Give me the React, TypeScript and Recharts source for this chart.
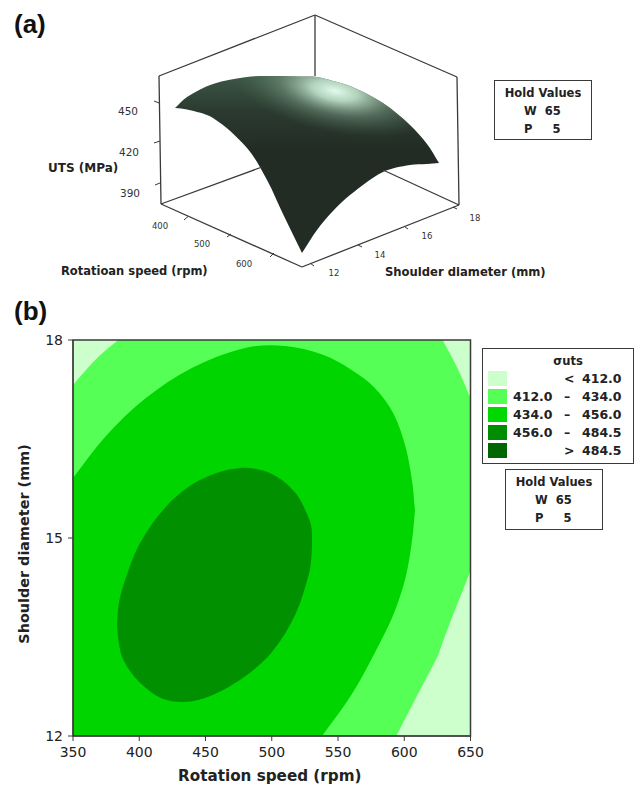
import React from 'react';
import { ComposedChart, Area, XAxis, YAxis, ReferenceArea, ReferenceLine } from 'recharts';

const FONT = '"DejaVu Sans", Verdana, sans-serif';
const INK = '#3a3a3a';

// ---- (a) surface: projected picture coordinates
const surfaceX = [175, 187, 213, 247, 267, 283, 302, 317, 333, 350, 383, 410, 427, 439];
const surfaceTop = [108, 97, 84, 77, 76, 76, 76.5, 77, 81, 86, 103, 125, 144, 163];
const surfaceBottom = [108, 109.5, 118, 148, 180, 214, 253, 230, 211, 195, 172, 165, 164, 163];

const frameSegments = [
  [[161, 204], [262, 167]],
  [[459, 205], [383, 170]],
  [[315, 15], [315, 76]],
  [[159, 76], [161, 204]],
  [[159, 76], [315, 15]],
  [[315, 15], [457, 77]],
  [[457, 77], [459, 205]],
  [[161, 204], [302, 267]],
  [[302, 267], [459, 205]],
];
const frameTicks = [
  [[154, 101], [159, 103]],
  [[154, 143], [160, 141]],
  [[155, 185], [160, 183]],
  [[184, 220], [188, 216.5]],
  [[227, 237], [231, 234]],
  [[270, 257], [274, 253]],
  [[310, 263], [314, 266]],
  [[358, 245], [362, 247]],
  [[405, 227], [408, 229]],
  [[453, 207], [457, 209]],
];
const utsTicks = [['450', 128, 111], ['420', 129, 152], ['390', 130, 193]];
const speedTicks = [['400', 160, 226], ['500', 202, 244], ['600', 244, 264]];
const diameterTicks = [['12', 334, 273], ['14', 380, 255], ['16', 427, 236], ['18', 475, 218]];

// ---- (b) contour regions: rotation speed -> shoulder diameter band
const band412X = [350, 360, 370, 384, 594, 612, 625, 629, 640, 650];
const band412Low = [12, 12, 12, 12, 12, 12.7, 13.2, 13.42, 14.0, 14.5];
const band412High = [17.32, 17.55, 17.76, 18, 18, 18, 18, 18, 17.58, 17.12];

const band434X = [350, 375, 405, 440, 480, 510, 538, 560, 578, 592, 601, 606, 608.1];
const band434Low = [12, 12, 12, 12, 12, 12, 12, 12.62, 13.27, 13.85, 14.4, 14.98, 15.42];
const band434High = [15.91, 16.55, 17.12, 17.58, 17.88, 17.91, 17.78, 17.55, 17.27, 16.88, 16.38, 15.85, 15.42];

const band456X = [383.2, 384.5, 388, 400, 420, 445, 476, 500, 518, 528, 530, 530.4];
const band456Low = [13.68, 13.42, 13.15, 12.82, 12.55, 12.55, 12.85, 13.27, 13.85, 14.45, 14.72, 14.95];
const band456High = [13.68, 14.0, 14.28, 14.9, 15.47, 15.87, 16.06, 15.97, 15.68, 15.3, 15.15, 14.95];

const speedAxisTicks = [350, 400, 450, 500, 550, 600, 650];
const diameterAxisTicks = [12, 15, 18];

const legendRows = [
  { color: '#CCFFCC', from: '', dash: '<', to: '412.0' },
  { color: '#55FF55', from: '412.0', dash: '–', to: '434.0' },
  { color: '#00D800', from: '434.0', dash: '–', to: '456.0' },
  { color: '#008E00', from: '456.0', dash: '–', to: '484.5' },
  { color: '#006600', from: '', dash: '>', to: '484.5' },
];

const zip = (xs: number[], lows: number[], highs: number[]) =>
  xs.map((x, i) => ({ x, band: [lows[i], highs[i]] }));

// Chord-aware smoothing curve that keeps sharp kinks sharp.
function smooth(ctx: any) {
  let line = NaN;
  let pts: number[][] = [];
  const flush = () => {
    const n = pts.length;
    if (!n) return;
    if (line) ctx.lineTo(pts[0][0], pts[0][1]);
    else ctx.moveTo(pts[0][0], pts[0][1]);
    const dist = (a: number[], b: number[]) => Math.hypot(a[0] - b[0], a[1] - b[1]) || 1e-6;
    const tangent = (i: number, side: number) => {
      const p = pts[i];
      const prev = pts[Math.max(i - 1, 0)];
      const next = pts[Math.min(i + 1, n - 1)];
      if (i > 0 && i < n - 1) {
        const a = [p[0] - prev[0], p[1] - prev[1]];
        const b = [next[0] - p[0], next[1] - p[1]];
        const cos = (a[0] * b[0] + a[1] * b[1]) / (dist(p, prev) * dist(p, next));
        if (cos < 0.8) {
          const o = side > 0 ? next : prev;
          const d = dist(o, p);
          return [(o[0] - p[0]) * side / d, (o[1] - p[1]) * side / d];
        }
      }
      const d = dist(next, prev);
      return [(next[0] - prev[0]) / d, (next[1] - prev[1]) / d];
    };
    for (let i = 0; i < n - 1; i++) {
      const a = pts[i];
      const b = pts[i + 1];
      const d = dist(a, b) / 3;
      const t1 = tangent(i, 1);
      const t2 = tangent(i + 1, -1);
      ctx.bezierCurveTo(a[0] + t1[0] * d, a[1] + t1[1] * d, b[0] - t2[0] * d, b[1] - t2[1] * d, b[0], b[1]);
    }
  };
  return {
    areaStart() { line = 0; },
    areaEnd() { line = NaN; },
    lineStart() { pts = []; },
    lineEnd() {
      flush();
      if (line === 1) ctx.closePath();
      line = 1 - line;
    },
    point(x: number, y: number) { pts.push([+x, +y]); },
  };
}

const HoldBox = ({ left, top, height }: { left: number; top: number; height: number }) => (
  <div
    style={{
      position: 'absolute', left, top, width: 96, height, border: `1.5px solid ${INK}`,
      fontFamily: FONT, fontWeight: 700, fontSize: 11.5, color: '#222', background: '#fff', boxSizing: 'content-box',
    }}
  >
    <div style={{ position: 'absolute', left: 0, right: 0, top: 5, textAlign: 'center', whiteSpace: 'pre' }}>Hold Values</div>
    <div style={{ position: 'absolute', left: 29, top: 23, whiteSpace: 'pre' }}>W  65</div>
    <div style={{ position: 'absolute', left: 29, top: 41, whiteSpace: 'pre' }}>P     5</div>
  </div>
);

export default function App() {
  return (
    <div style={{ position: 'absolute', left: 0, top: 0, width: 635, height: 785, background: '#fff', overflow: 'hidden' }}>
      {/* (a) */}
      <div style={{ position: 'absolute', left: 0, top: 0 }}>
        <ComposedChart width={635} height={295} margin={{ top: 0, right: 0, bottom: 0, left: 0 }}>
          <defs>
            <linearGradient id="surfaceBase" x1="0" y1="72" x2="0" y2="150" gradientUnits="userSpaceOnUse">
              <stop offset="0" stopColor="#3f5a47" />
              <stop offset="0.5" stopColor="#2b3a30" />
              <stop offset="1" stopColor="#222c25" />
            </linearGradient>
            <radialGradient id="surfaceGlow" cx="0" cy="0" r="1" gradientUnits="userSpaceOnUse"
              gradientTransform="translate(335 91) rotate(12) scale(105 42)">
              <stop offset="0" stopColor="#e2fbeb" stopOpacity="1" />
              <stop offset="0.22" stopColor="#c0e2cb" stopOpacity="0.9" />
              <stop offset="0.55" stopColor="#7a9c84" stopOpacity="0.5" />
              <stop offset="1" stopColor="#4a6a52" stopOpacity="0" />
            </radialGradient>
          </defs>
          <XAxis type="number" dataKey="x" hide domain={[0, 635]} allowDataOverflow />
          <YAxis type="number" hide reversed domain={[0, 295]} allowDataOverflow />
          <Area data={zip(surfaceX, surfaceBottom, surfaceTop)} dataKey="band" type={smooth as any} stroke="none" fill="url(#surfaceBase)" fillOpacity={1} activeDot={false} isAnimationActive={false} />
          <Area data={zip(surfaceX, surfaceBottom, surfaceTop)} dataKey="band" type={smooth as any} stroke="none" fill="url(#surfaceGlow)" fillOpacity={1} activeDot={false} isAnimationActive={false} />
          {frameSegments.map((s, i) => (
            <ReferenceLine key={'f' + i} segment={s.map(([x, y]) => ({ x, y }))} stroke={INK} strokeWidth={1.3} />
          ))}
          {frameTicks.map((s, i) => (
            <ReferenceLine key={'t' + i} segment={s.map(([x, y]) => ({ x, y }))} stroke={INK} strokeWidth={1} />
          ))}
          {utsTicks.map(([t, x, y]) => (
            <text key={'u' + t} x={x as number} y={y as number} textAnchor="middle" dominantBaseline="central" fontFamily={FONT} fontSize={10.5} fill="#333">{t}</text>
          ))}
          {speedTicks.map(([t, x, y]) => (
            <text key={'s' + t} x={x as number} y={y as number} textAnchor="middle" dominantBaseline="central" fontFamily={FONT} fontSize={8.5} fill="#333">{t}</text>
          ))}
          {diameterTicks.map(([t, x, y]) => (
            <text key={'d' + t} x={x as number} y={y as number} textAnchor="middle" dominantBaseline="central" fontFamily={FONT} fontSize={8.5} fill="#333">{t}</text>
          ))}
          <text x={48} y={168} dominantBaseline="central" fontFamily={FONT} fontWeight={700} fontSize={12} fill="#222">UTS (MPa)</text>
          <text x={61} y={271} dominantBaseline="central" fontFamily={FONT} fontWeight={700} fontSize={11.5} fill="#222">Rotatioan speed (rpm)</text>
          <text x={385} y={272} dominantBaseline="central" fontFamily={FONT} fontWeight={700} fontSize={11.6} fill="#222">Shoulder diameter (mm)</text>
          <text x={14} y={33} fontFamily='"Liberation Sans", Arial, sans-serif' fontWeight={700} fontSize={26} fill="#111">(a)</text>
        </ComposedChart>
      </div>
      <HoldBox left={494} top={80} height={58} />

      {/* (b) */}
      <div style={{ position: 'absolute', left: 0, top: 295 }}>
        <ComposedChart width={635} height={490} margin={{ top: 45, right: 164.5, bottom: 0, left: 0 }}>
          <XAxis
            type="number" dataKey="x" domain={[350, 650]} ticks={speedAxisTicks} height={49} tickSize={5} tickMargin={6}
            allowDataOverflow interval={0}
            stroke={INK} tick={{ fontFamily: FONT, fontSize: 14, fill: '#222' }}
            label={{ value: 'Rotation speed (rpm)', position: 'insideBottom', offset: 4, dx: -2, style: { fontFamily: FONT, fontWeight: 700, fontSize: 15.2, fill: '#222' } }}
          />
          <YAxis
            type="number" domain={[12, 18]} ticks={diameterAxisTicks} width={73} tickSize={5} tickMargin={5}
            allowDataOverflow interval={0}
            stroke={INK} tick={{ fontFamily: FONT, fontSize: 14, fill: '#222' }}
            label={{ value: 'Shoulder diameter (mm)', angle: -90, position: 'insideLeft', offset: 24, dy: 6, style: { fontFamily: FONT, fontWeight: 700, fontSize: 14.4, fill: '#222', textAnchor: 'middle' } }}
          />
          <ReferenceArea x1={350} x2={650} y1={12} y2={18} fill="#CCFFCC" fillOpacity={1} stroke="none" />
          <Area data={zip(band412X, band412Low, band412High)} dataKey="band" type={smooth as any} stroke="none" fill="#55FF55" fillOpacity={1} activeDot={false} isAnimationActive={false} />
          <Area data={zip(band434X, band434Low, band434High)} dataKey="band" type={smooth as any} stroke="none" fill="#00D500" fillOpacity={1} activeDot={false} isAnimationActive={false} />
          <Area data={zip(band456X, band456Low, band456High)} dataKey="band" type={smooth as any} stroke="none" fill="#009000" fillOpacity={1} activeDot={false} isAnimationActive={false} />
          <ReferenceArea x1={350} x2={650} y1={12} y2={18} fill="none" stroke={INK} strokeWidth={1.5} />
          <text x={14} y={25} fontFamily='"Liberation Sans", Arial, sans-serif' fontWeight={700} fontSize={26} fill="#111">(b)</text>
        </ComposedChart>
      </div>

      {/* legend */}
      <div style={{ position: 'absolute', left: 482, top: 348, width: 150, height: 114, border: `1.5px solid ${INK}`, fontFamily: FONT, fontWeight: 700, fontSize: 12.5, color: '#222' }}>
        <div style={{ position: 'absolute', left: 20, right: 0, top: 5, textAlign: 'center', fontSize: 11.5 }}>σuts</div>
        {legendRows.map((r, i) => (
          <React.Fragment key={r.color}>
            <div style={{ position: 'absolute', left: 5, top: 22 + i * 18, width: 19, height: 15, background: r.color }} />
            <div style={{ position: 'absolute', left: 30, top: 22 + i * 18, lineHeight: '15px' }}>{r.from}</div>
            <div style={{ position: 'absolute', left: 81, top: 22 + i * 18, lineHeight: '15px' }}>{r.dash}</div>
            <div style={{ position: 'absolute', left: 99, top: 22 + i * 18, lineHeight: '15px' }}>{r.to}</div>
          </React.Fragment>
        ))}
      </div>
      <HoldBox left={505} top={469} height={59} />
    </div>
  );
}
